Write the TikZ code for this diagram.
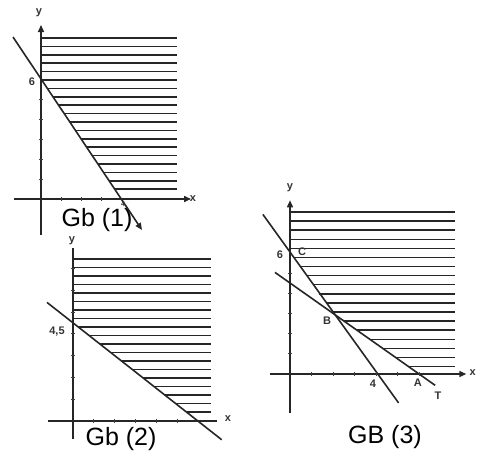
\documentclass[tikz,border=0pt]{standalone}
\usepackage{fontspec}
\newfontfamily\capfont{Liberation Sans}
\usetikzlibrary{arrows.meta}

\begin{document}
\begin{tikzpicture}[x=1pt,y=-1pt,
   ax/.style={line width=1.5pt,black!85},
   tickmark/.style={line width=1pt,black!75},
   hatch/.style={line width=1.5pt,black!85},
   bd/.style={line width=1.6pt,black!85},
   tip/.style={-{Triangle[length=7pt,width=6pt]}},
   lbl/.style={font=\capfont\bfseries\fontsize{11}{11}\selectfont,inner sep=0pt,black!80},
   captxt/.style={font=\capfont\fontsize{25}{25}\selectfont,inner sep=0pt}]
  \useasboundingbox (0,0) rectangle (477,453);
  % graph 1: 3x+2y >= 12
  \begin{scope}[shift={(41,199)},x=20pt,y=20pt]
    \foreach \k in {0,...,18} {
      \pgfmathsetmacro\yy{8.05-0.42*\k}
      \pgfmathsetmacro\xl{max(0,(6-\yy)/1.5)}
      \draw[hatch] (\xl,\yy) -- (6.8,\yy);
    }
    \coordinate (yb1) at (0,-1.8);
    \coordinate (yt1) at (0,8.7);
    \coordinate (xl1) at (-1.35,0);
    \coordinate (xr1) at (7.5,0);
    \coordinate (ls1) at (-1.4,8.1);
    \coordinate (le1) at (5.05,-1.55);
    \draw[ax,tip] (yb1) -- (yt1);
    \draw[ax,tip] (xl1) -- (xr1);
    \draw[bd,tip] (ls1) -- (le1);
    \foreach \i in {1,2,3} \draw[tickmark] (\i,0) ++(0,-2pt) -- ++(0,4pt);
    \foreach \j in {1,...,5} \draw[tickmark] (0,\j) ++(-2pt,0) -- ++(4pt,0);
    \node[lbl] (y1) at (-0.1,9.3) {y};
    \node[lbl] (x1) at (7.6,0) {x};
    \node[lbl] (six1) at (-0.45,5.85) {6};
    \node[lbl,font=\capfont\bfseries\fontsize{7}{7}\selectfont] (four1) at (4.1,-0.25) {4};
  \end{scope}
  % graph 2: 3x+4y >= 18
  \begin{scope}[shift={(73,421)},x=20.8pt,y=21.8pt]
    \foreach \k in {0,...,18} {
      \pgfmathsetmacro\yy{7.43-0.39*\k}
      \pgfmathsetmacro\xl{max(0,(4.5-\yy)/0.75)}
      \draw[hatch] (\xl,\yy) -- (6.65,\yy);
    }
    \coordinate (yb2) at (0,-0.83);
    \coordinate (yt2) at (0,7.94);
    \coordinate (xl2) at (-1.2,0);
    \coordinate (xr2) at (6.9,0);
    \coordinate (ls2) at (-1.25,5.44);
    \coordinate (le2) at (7.15,-0.86);
    \draw[ax] (yb2) -- (yt2);
    \draw[ax] (xl2) -- (xr2);
    \draw[bd] (ls2) -- (le2);
    \foreach \i in {1,...,5} \draw[tickmark] (\i,0) ++(0,-2pt) -- ++(0,4pt);
    \foreach \j in {1,...,7} \draw[tickmark] (0,\j) ++(-2pt,0) -- ++(4pt,0);
    \node[lbl] (y2) at (-0.05,8.28) {y};
    \node[lbl] (x2) at (7.45,0.1) {x};
    \node[lbl] (half2) at (-0.77,4.08) {4,5};
  \end{scope}
  % graph 3: both constraints
  \begin{scope}[shift={(290,374)},x=21.5pt,y=20.2pt]
    \foreach \k in {0,...,17} {
      \pgfmathsetmacro\yy{8.02-0.45*\k}
      \pgfmathsetmacro\xl{max(0,(6-\yy)/1.5,(4.5-\yy)/0.75)}
      \draw[hatch] (\xl,\yy) -- (7.67,\yy);
    }
    \coordinate (yb3) at (0,-1.93);
    \coordinate (yt3) at (0,8.6);
    \coordinate (xl3) at (-0.93,0);
    \coordinate (xr3) at (8.2,0);
    \coordinate (ls3) at (-1.26,7.9);
    \coordinate (le3) at (5.05,-1.43);
    \coordinate (ms3) at (-0.7,5.03);
    \coordinate (me3) at (6.75,-0.56);
    \draw[ax,tip] (yb3) -- (yt3);
    \draw[ax,tip] (xl3) -- (xr3);
    \draw[bd] (ls3) -- (le3);
    \draw[bd] (ms3) -- (me3);
    \foreach \i in {1,...,6} \draw[tickmark] (\i,0) ++(0,-2pt) -- ++(0,4pt);
    \foreach \j in {1,...,5} \draw[tickmark] (0,\j) ++(-2pt,0) -- ++(4pt,0);
    \node[lbl] (y3) at (0,9.2) {y};
    \node[lbl] (x3) at (8.5,0.05) {x};
    \node[lbl] (six3) at (-0.47,5.9) {6};
    \node[lbl] (c3) at (0.56,6.04) {C};
    \node[lbl] (b3) at (1.72,2.62) {B};
    \node[lbl] (four3) at (3.86,-0.5) {4};
    \node[lbl] (a3) at (5.95,-0.45) {A};
    \node[lbl] (t3) at (6.88,-1.09) {T};
  \end{scope}
  \node[captxt] (cap1) at (97,220) {Gb (1)};
  \node[captxt] (cap2) at (121,439) {Gb (2)};
  \node[captxt] (cap3) at (385,437) {GB (3)};
\end{tikzpicture}
\end{document}
